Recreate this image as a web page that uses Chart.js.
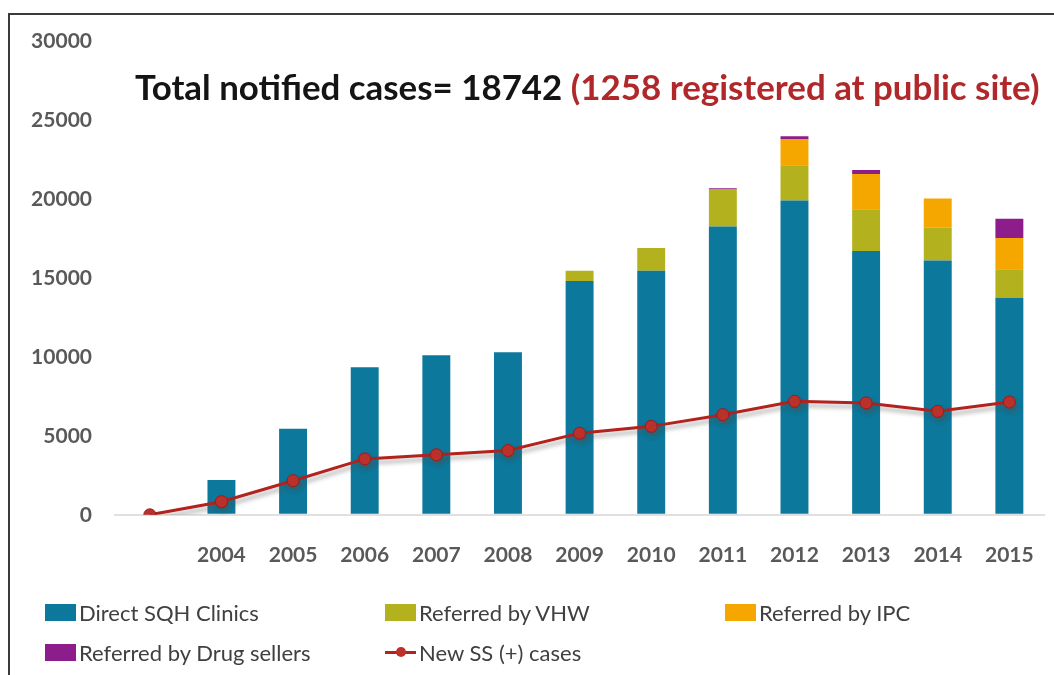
<!DOCTYPE html>
<html>
<head>
<meta charset="utf-8">
<script src="https://cdn.jsdelivr.net/npm/chart.js@4.4.0/dist/chart.umd.min.js"></script>
<style>
  html, body { margin: 0; padding: 0; background: #fff; overflow: hidden; }
  #wrap { position: relative; width: 1054px; height: 675px; }
  #frame { position: absolute; left: 8px; top: 13px; width: 1100px; height: 700px;
           border: 2px solid #3a3a3a; box-sizing: border-box; pointer-events: none; }
  #legend { position: absolute; left: 45px; top: 597px; width: 1000px;
            font-family: Lato, sans-serif; font-size: 22px; color: #404040; }
  .item { position: absolute; display: flex; align-items: center; height: 30px; white-space: nowrap; }
  .box { width: 31px; height: 17px; margin-right: 3px; }
  .lineSym { position: relative; width: 31px; height: 16px; margin-right: 3px; }
  .lineSym .ln { position: absolute; left: 0; right: 0; top: 7px; height: 3px; }
  .lineSym .dot { position: absolute; left: 11px; top: 3px; width: 10px; height: 10px; border-radius: 50%; }
</style>
</head>
<body>
<div id="wrap">
  <canvas id="chart" width="1054" height="675"></canvas>
  <div id="frame"></div>
  <div id="legend"></div>
</div>
<script>
// categories (first one is the empty start point of the line)
const years = ['', '2004', '2005', '2006', '2007', '2008', '2009', '2010', '2011', '2012', '2013', '2014', '2015'];

// stacked bar series
const directSQH   = [null, 2200, 5450, 9350, 10100, 10300, 14800, 15450, 18250, 19900, 16700, 16100, 13750];
const referredVHW = [null, 0, 0, 0, 0, 0, 650, 1450, 2350, 2230, 2650, 2080, 1800];
const referredIPC = [null, 0, 0, 0, 0, 0, 0, 0, 0, 1630, 2230, 1850, 1980];
const referredDrug = [null, 0, 0, 0, 0, 0, 0, 0, 80, 210, 250, 0, 1210];

// line series
const newSS = [0, 830, 2160, 3540, 3800, 4070, 5170, 5600, 6340, 7190, 7080, 6550, 7140];

const yTicks = [0, 5000, 10000, 15000, 20000, 25000, 30000];

const colors = {
  blue: '#0b789c',
  olive: '#b3b21e',
  orange: '#f5a700',
  purple: '#8c1d8a',
  red: '#b3221d'
};

const lineShadow = {
  id: 'lineShadow',
  beforeDatasetDraw(chart, args) {
    if (chart.data.datasets[args.index].type === 'line') {
      const c = chart.ctx;
      c.save();
      c.shadowColor = 'rgba(80,80,80,0.45)';
      c.shadowBlur = 4;
      c.shadowOffsetX = 2;
      c.shadowOffsetY = 4;
    }
  },
  afterDatasetDraw(chart, args) {
    if (chart.data.datasets[args.index].type === 'line') chart.ctx.restore();
  }
};

const headline = {
  id: 'headline',
  afterDraw(chart) {
    const c = chart.ctx;
    const part1 = 'Total notified cases= 18742 ';
    const part2 = '(1258 registered at public site)';
    let size = 30;
    c.font = 'bold ' + size + 'px Lato, sans-serif';
    const w = c.measureText(part1 + part2).width;
    size = size * 905 / w;
    c.font = 'bold ' + size + 'px Lato, sans-serif';
    c.textBaseline = 'middle';
    c.textAlign = 'left';
    const x = 135, y = 89;
    c.fillStyle = '#141414';
    c.fillText(part1, x, y);
    c.fillStyle = '#b0282a';
    c.fillText(part2, x + c.measureText(part1).width, y);
  }
};

const chart = new Chart('chart', {
  type: 'bar',
  data: {
    labels: years,
    datasets: [
      { label: 'Direct SQH Clinics', data: directSQH, backgroundColor: colors.blue, stack: 'cases', order: 1 },
      { label: 'Referred by VHW', data: referredVHW, backgroundColor: colors.olive, stack: 'cases', order: 1 },
      { label: 'Referred by IPC', data: referredIPC, backgroundColor: colors.orange, stack: 'cases', order: 1 },
      { label: 'Referred by Drug sellers', data: referredDrug, backgroundColor: colors.purple, stack: 'cases', order: 1 },
      { type: 'line', label: 'New SS (+) cases', data: newSS, stack: 'ss', order: 0,
        borderColor: colors.red, borderWidth: 3, backgroundColor: '#c0302a',
        pointRadius: 6, pointBorderColor: '#9e1c18', pointBorderWidth: 1, tension: 0 }
    ]
  },
  options: {
    responsive: false,
    animation: false,
    layout: { padding: { left: 0, right: 3, top: 41, bottom: 87 } },
    datasets: { bar: { barPercentage: 0.39, categoryPercentage: 1 } },
    plugins: {
      legend: { display: false },
      tooltip: { enabled: false }
    },
    scales: {
      x: {
        stacked: true,
        grid: { display: false },
        border: { display: false },
        ticks: { color: '#595959', font: { family: 'Lato', size: 21, weight: 'bold' }, padding: 20 }
      },
      y: {
        stacked: true,
        min: 0,
        max: 30000,
        afterFit(scale) { scale.width = 114; },
        afterBuildTicks(scale) { scale.ticks = yTicks.map(v => ({ value: v })); },
        grid: {
          drawTicks: false,
          color: ctx => (ctx.tick && ctx.tick.value === 0) ? '#e0e0e0' : 'rgba(0,0,0,0)',
          lineWidth: 2
        },
        border: { display: false },
        ticks: {
          color: '#595959', font: { family: 'Lato', size: 21, weight: 'bold' }, padding: 22,
          callback: v => String(v)
        }
      }
    }
  },
  plugins: [lineShadow, headline]
});

// html legend in two rows, fixed columns
const legendPos = [[0, 0], [340, 0], [680, 0], [0, 40], [340, 40]];
const legendEl = document.getElementById('legend');
chart.data.datasets.forEach((ds, i) => {
  const item = document.createElement('div');
  item.className = 'item';
  item.style.left = legendPos[i][0] + 'px';
  item.style.top = legendPos[i][1] + 'px';
  if (ds.type === 'line') {
    item.innerHTML = '<span class="lineSym"><span class="ln" style="background:' + ds.borderColor +
      '"></span><span class="dot" style="background:' + ds.backgroundColor + '"></span></span>';
  } else {
    item.innerHTML = '<span class="box" style="background:' + ds.backgroundColor + '"></span>';
  }
  item.appendChild(document.createTextNode(ds.label));
  legendEl.appendChild(item);
});
</script>
</body>
</html>
